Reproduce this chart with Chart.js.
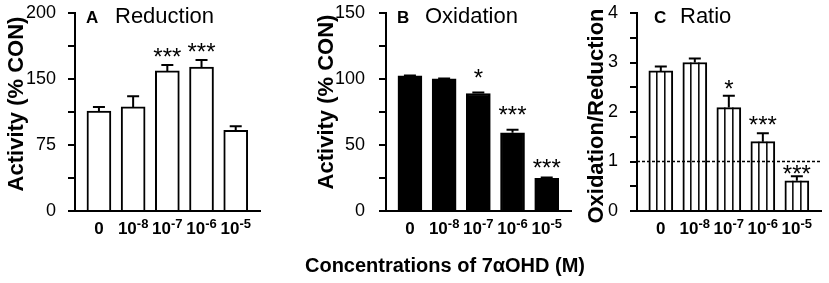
<!DOCTYPE html>
<html>
<head>
<meta charset="utf-8">
<script src="https://cdn.jsdelivr.net/npm/chart.js@4.4.1/dist/chart.umd.min.js"></script>
<style>
  html, body { margin: 0; padding: 0; background: #fff; }
  #wrap { position: relative; width: 829px; height: 283px; }
  #wrap canvas { position: absolute; left: 0; top: 0; }
</style>
</head>
<body>
<div id="wrap">
  <canvas id="chartA" width="829" height="283"></canvas>
  <canvas id="chartB" width="829" height="283"></canvas>
  <canvas id="chartC" width="829" height="283"></canvas>
</div>
<script>
// concentrations: "0", "10^-8" ...
const concBase = ['0', '10', '10', '10', '10'];
const concExp = ['', '-8', '-7', '-6', '-5'];

// A - reduction (% CON)
const reduction = [113.5, 118.3, 159.2, 163.6, 91.8];
const reductionErr = [4.8, 12.2, 6.6, 8.0, 4.5];
const reductionStars = ['', '', '***', '***', ''];
const reductionStarY = [0, 0, 179.5, 185, 0];
const reductionTicks = [0, 37.5, 75, 112.5, 150, 187.5, 225];
const reductionTickText = ['0', '', '75', '', '150', '', '200']; // top tick reads 200 in the figure

// B - oxidation (% CON)
const oxidation = [102.4, 100.2, 89.0, 59.3, 24.8];
const oxidationErr = [0.2, 0.2, 0.8, 2.2, 0.6];
const oxidationStars = ['', '', '*', '***', '***'];
const oxidationStarY = [0, 0, 103.6, 76, 35.8];
const oxidationTicks = [0, 25, 50, 75, 100, 125, 150];
const oxidationTickText = ['0', '', '50', '', '100', '', '150'];

// C - oxidation/reduction ratio
const ratio = [2.83, 3.0, 2.09, 1.40, 0.61];
const ratioErr = [0.09, 0.08, 0.24, 0.17, 0.09];
const ratioStars = ['', '', '*', '***', '***'];
const ratioStarY = [0, 0, 2.54, 1.81, 0.83];
const ratioTicks = [0, 0.5, 1, 1.5, 2, 2.5, 3, 3.5, 4];
const ratioTickText = ['0', '', '1', '', '2', '', '3', '', '4'];
const ratioRef = 1;

const FONT = '"Liberation Sans", Arial, sans-serif';
Chart.defaults.font.family = FONT;
Chart.defaults.color = '#000';

function panelPlugin(p) {
  return {
    id: 'panel' + p.letter,
    afterDatasetsDraw(chart) {
      const ctx = chart.ctx;
      const y = chart.scales.y;
      const area = chart.chartArea;
      ctx.save();
      ctx.strokeStyle = '#000';
      ctx.fillStyle = '#000';
      chart.getDatasetMeta(0).data.forEach((bar, i) => {
        if (p.stripes) {
          const left = bar.x - bar.width / 2;
          ctx.lineWidth = 1.5;
          ctx.beginPath();
          for (let k = 1; k < 3; k++) {
            const sx = left + bar.width * k / 3;
            ctx.moveTo(sx, bar.y);
            ctx.lineTo(sx, bar.base);
          }
          ctx.stroke();
        }
        // SEM, upper side only
        const top = y.getPixelForValue(p.values[i] + p.errors[i]);
        ctx.lineWidth = 2;
        ctx.beginPath();
        ctx.moveTo(bar.x, bar.y);
        ctx.lineTo(bar.x, top);
        ctx.moveTo(bar.x - 6, top);
        ctx.lineTo(bar.x + 6, top);
        ctx.stroke();
        if (p.stars[i]) {
          ctx.font = '24px ' + FONT;
          ctx.textAlign = 'center';
          ctx.textBaseline = 'alphabetic';
          ctx.fillText(p.stars[i], bar.x, y.getPixelForValue(p.starY[i]) + 12);
        }
      });
      if (p.refLine != null) {
        const ry = y.getPixelForValue(p.refLine);
        ctx.lineWidth = 1.5;
        ctx.setLineDash([3, 2]);
        ctx.beginPath();
        ctx.moveTo(area.left, ry);
        ctx.lineTo(area.right, ry);
        ctx.stroke();
      }
      ctx.restore();
    },
    afterDraw(chart) {
      const ctx = chart.ctx;
      const x = chart.scales.x;
      ctx.save();
      ctx.fillStyle = '#000';
      ctx.textBaseline = 'alphabetic';
      ctx.textAlign = 'left';
      // x tick labels with superscripts
      concBase.forEach((b, i) => {
        ctx.font = 'bold 17px ' + FONT;
        const wb = ctx.measureText(b).width;
        ctx.font = 'bold 13px ' + FONT;
        const we = concExp[i] ? ctx.measureText(concExp[i]).width : 0;
        const sx = x.getPixelForValue(i) - (wb + we) / 2;
        ctx.font = 'bold 17px ' + FONT;
        ctx.fillText(b, sx, 234);
        if (concExp[i]) {
          ctx.font = 'bold 13px ' + FONT;
          ctx.fillText(concExp[i], sx + wb, 228);
        }
      });
      // panel letter + title
      ctx.font = 'bold 17px ' + FONT;
      ctx.fillText(p.letter, p.letterX, 23);
      ctx.font = '22px ' + FONT;
      ctx.fillText(p.title, p.titleX, 23);
      // y axis title
      ctx.save();
      ctx.translate(p.yTitleX, p.yTitleY);
      ctx.rotate(-Math.PI / 2);
      ctx.font = 'bold 22px ' + FONT;
      ctx.textAlign = 'center';
      ctx.textBaseline = 'middle';
      ctx.fillText(p.yTitle, 0, 0);
      ctx.restore();
      if (p.xTitle) {
        ctx.font = 'bold 20px ' + FONT;
        ctx.textAlign = 'center';
        ctx.fillText(p.xTitle, 445, 272);
      }
      ctx.restore();
    }
  };
}

function makeChart(id, p) {
  return new Chart(document.getElementById(id), {
    type: 'bar',
    data: {
      datasets: [{
        data: p.values.map((v, i) => ({ x: i, y: v })),
        backgroundColor: p.fill,
        borderColor: '#000',
        borderWidth: 2,
        barThickness: 24
      }]
    },
    options: {
      responsive: false,
      animation: false,
      layout: { padding: p.padding },
      plugins: { legend: { display: false }, tooltip: { enabled: false } },
      scales: {
        x: {
          type: 'linear',
          min: -0.7,
          max: 4.71,
          offset: false,
          ticks: { display: false },
          grid: { display: false },
          border: { color: '#000', width: 2 },
          afterFit: s => { s.height = 0; s.paddingLeft = 0; s.paddingRight = 0; }
        },
        y: {
          min: 0,
          max: p.ticks[p.ticks.length - 1],
          afterBuildTicks: s => { s.ticks = p.ticks.map(v => ({ value: v })); },
          ticks: {
            autoSkip: false,
            padding: p.tickPad,
            font: { size: 18 },
            color: '#000',
            callback: (v, i) => p.tickText[i]
          },
          grid: { drawOnChartArea: false, tickLength: 7, color: '#000', lineWidth: 2 },
          border: { color: '#000', width: 2 },
          // keep the plot area where the padding puts it
          afterFit: s => { s.width = 50; s.paddingTop = 0; s.paddingBottom = 0; }
        }
      }
    },
    plugins: [panelPlugin(p)]
  });
}

makeChart('chartA', {
  letter: 'A', letterX: 86, title: 'Reduction', titleX: 115,
  yTitle: 'Activity (% CON)', yTitleX: 17, yTitleY: 104,
  values: reduction, errors: reductionErr, stars: reductionStars, starY: reductionStarY,
  ticks: reductionTicks, tickText: reductionTickText, tickPad: 12,
  fill: '#fff', stripes: false,
  padding: { left: 25, right: 569, top: 13, bottom: 72 }
});

makeChart('chartB', {
  letter: 'B', letterX: 397, title: 'Oxidation', titleX: 425,
  yTitle: 'Activity (% CON)', yTitleX: 327, yTitleY: 102,
  values: oxidation, errors: oxidationErr, stars: oxidationStars, starY: oxidationStarY,
  ticks: oxidationTicks, tickText: oxidationTickText, tickPad: 14,
  fill: '#000', stripes: false,
  xTitle: 'Concentrations of 7\u03b1OHD (M)',
  padding: { left: 336, right: 258, top: 13, bottom: 72 }
});

makeChart('chartC', {
  letter: 'C', letterX: 654, title: 'Ratio', titleX: 680,
  yTitle: 'Oxidation/Reduction', yTitleX: 597, yTitleY: 116,
  values: ratio, errors: ratioErr, stars: ratioStars, starY: ratioStarY,
  ticks: ratioTicks, tickText: ratioTickText, tickPad: 12,
  fill: '#fff', stripes: true, refLine: ratioRef,
  padding: { left: 587, right: 8, top: 13, bottom: 72 }
});
</script>
</body>
</html>
